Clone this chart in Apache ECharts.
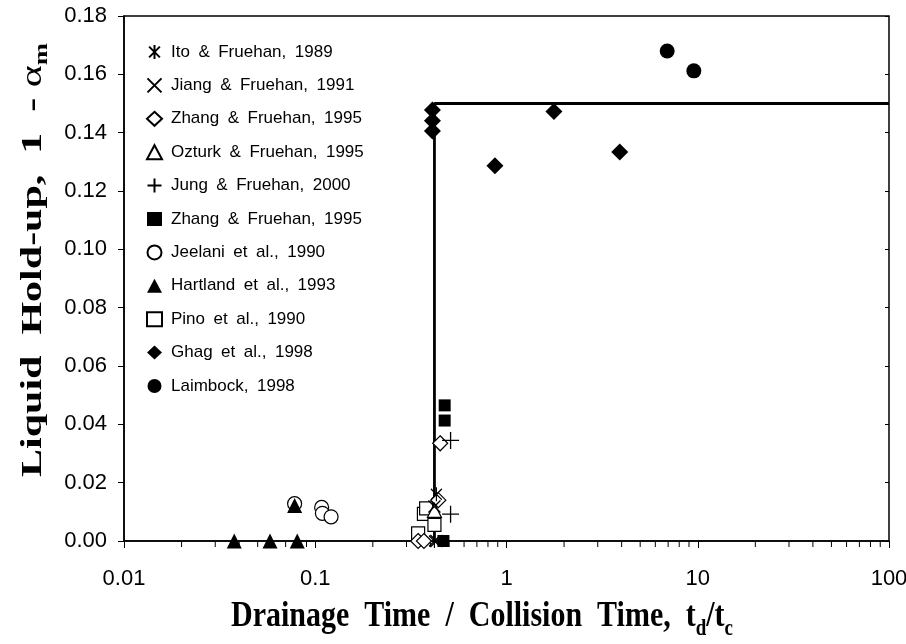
<!DOCTYPE html>
<html>
<head>
<meta charset="utf-8">
<script src="https://cdn.jsdelivr.net/npm/echarts@6/dist/echarts.min.js"></script>
<style>
  html, body { margin: 0; padding: 0; background: #fff; }
  #chart { width: 906px; height: 644px; }
</style>
</head>
<body>
<div id="chart"></div>
<script>
// ---- data: [drainage time / collision time, liquid hold-up] ----
const itoFruehan1989     = [[0.43, 0.016], [0.42, 0.0]];
const jiangFruehan1991   = [[0.42, 0.0118], [0.43, 0.0]];
const zhangFruehanOpen   = [[0.45, 0.0335], [0.44, 0.014], [0.345, 0.0], [0.37, 0.0]];
const ozturkFruehan1995  = [[0.42, 0.0105]];
const jungFruehan2000    = [[0.51, 0.0345], [0.51, 0.0092]];
const zhangFruehanFilled = [[0.475, 0.0465], [0.475, 0.0413], [0.468, 0.0]];
const jeelani1990        = [[0.078, 0.0128], [0.108, 0.0115], [0.109, 0.0095], [0.121, 0.0083]];
const hartland1993       = [[0.0377, 0.0], [0.058, 0.0], [0.0805, 0.0], [0.078, 0.0122]];
const pino1990           = [[0.37, 0.0093], [0.38, 0.0112], [0.42, 0.0055], [0.345, 0.0026]];
const ghag1998           = [[0.41, 0.1478], [0.41, 0.1441], [0.41, 0.1406], [0.87, 0.1287], [1.77, 0.1473], [3.91, 0.1334]];
const laimbock1998       = [[6.92, 0.168], [9.54, 0.1612]];

// transition boundary
const boundaryX = [0.42, 0.42, 100];
const boundaryY = [0.0, 0.15, 0.15];

// axes
const xTickLabels = ['0.01', '0.1', '1', '10', '100'];
const yTickLabels = ['0.00', '0.02', '0.04', '0.06', '0.08', '0.10', '0.12', '0.14', '0.16', '0.18'];
const xMinorMultipliers = [2, 3, 4, 5, 6, 7, 8, 9];
const xDecades = [0.01, 0.1, 1, 10];

// en spaces keep the wide word gaps of the figure's typesetting
const SP = '\u2002';
const legendNames = [
  'Ito' + SP + '&' + SP + 'Fruehan,' + SP + '1989',
  'Jiang' + SP + '&' + SP + 'Fruehan,' + SP + '1991',
  'Zhang' + SP + '&' + SP + 'Fruehan,' + SP + '1995',
  'Ozturk' + SP + '&' + SP + 'Fruehan,' + SP + '1995',
  'Jung' + SP + '&' + SP + 'Fruehan,' + SP + '2000',
  'Zhang' + SP + '&' + SP + 'Fruehan,' + SP + '1995 ',
  'Jeelani' + SP + 'et' + SP + 'al.,' + SP + '1990',
  'Hartland' + SP + 'et' + SP + 'al.,' + SP + '1993',
  'Pino' + SP + 'et' + SP + 'al.,' + SP + '1990',
  'Ghag' + SP + 'et' + SP + 'al.,' + SP + '1998',
  'Laimbock,' + SP + '1998'
];
const xTitle = 'Drainage' + SP + 'Time' + SP + '/' + SP + 'Collision' + SP + 'Time,' + SP + 't{sub|d}/t{sub|c}';
const yTitle = 'Liquid' + SP + 'Hold-up,' + SP + '1' + SP + '- {alpha|α}{sub|m}';

const ASTERISK = 'path://M-1,-1L1,1M-1,1L1,-1M0,-1.3L0,1.3';
const CROSS = 'path://M-1,-1L1,1M-1,1L1,-1';
const PLUS = 'path://M-1,0L1,0M0,-1L0,1';

const openStyle = { color: '#fff', borderColor: '#000', borderWidth: 1.2, opacity: 1 };
const strokeStyle = { color: 'none', borderColor: '#000', borderWidth: 1.3, opacity: 1 };
const filledStyle = { color: '#000', borderColor: '#000', borderWidth: 0, opacity: 1 };

function scatter(name, data, symbol, size, style) {
  return {
    name: name,
    type: 'scatter',
    data: data,
    symbol: symbol,
    symbolSize: size,
    itemStyle: style,
    emphasis: { disabled: true },
    z: 3
  };
}

const minorTicks = [];
xDecades.forEach(function (d) {
  xMinorMultipliers.forEach(function (m) { minorTicks.push([d * m, 0]); });
});

const chart = echarts.init(document.getElementById('chart'), null, { renderer: 'canvas' });

const sharedX = { type: 'log', logBase: 10, min: 0.01, max: 100, gridIndex: 0 };
const sharedY = { type: 'value', min: 0, max: 0.18, interval: 0.02, gridIndex: 0 };
const subRich = { fontSize: 19, fontWeight: 'bold', fontFamily: 'Liberation Serif', lineHeight: 19, verticalAlign: 'bottom' };

chart.setOption({
  animation: false,
  backgroundColor: '#fff',
  grid: {
    left: 124, right: 17, top: 16, bottom: 103,
    outerBoundsMode: 'none',
    containLabel: false,
    show: true, borderColor: '#000', borderWidth: 1.5, backgroundColor: 'transparent'
  },
  xAxis: [
    Object.assign({}, sharedX, {
      axisLine: { show: true, lineStyle: { color: '#000', width: 1.5 } },
      axisTick: { show: true, inside: false, length: 7, lineStyle: { color: '#000', width: 1 } },
      axisLabel: {
        color: '#000', fontFamily: 'Liberation Sans', fontSize: 22, margin: 27,
        formatter: function (v) {
          const k = Math.round(Math.log10(v)) + 2;
          return xTickLabels[k] !== undefined ? xTickLabels[k] : '';
        }
      },
      splitLine: { show: false }
    }),
    Object.assign({}, sharedX, {
      axisLine: { show: false },
      axisTick: { show: true, inside: true, length: 7, lineStyle: { color: '#000', width: 1 } },
      axisLabel: { show: false },
      splitLine: { show: false }
    })
  ],
  yAxis: [
    Object.assign({}, sharedY, {
      axisLine: { show: true, lineStyle: { color: '#000', width: 1.5 } },
      axisTick: { show: true, inside: false, length: 6, lineStyle: { color: '#000', width: 1 } },
      axisLabel: {
        color: '#000', fontFamily: 'Liberation Sans', fontSize: 22, margin: 17,
        formatter: function (v) {
          const k = Math.round(v / 0.02);
          return yTickLabels[k] !== undefined ? yTickLabels[k] : '';
        }
      },
      splitLine: { show: false }
    }),
    Object.assign({}, sharedY, {
      axisLine: { show: false },
      axisTick: { show: true, inside: true, length: 4, lineStyle: { color: '#000', width: 1 } },
      axisLabel: { show: false },
      splitLine: { show: false }
    })
  ],
  legend: {
    orient: 'vertical',
    left: 140, top: 37,
    itemWidth: 15, itemHeight: 14, itemGap: 13.4,
    selectedMode: false,
    data: legendNames,
    textStyle: { color: '#000', fontFamily: 'Liberation Sans', fontSize: 17, lineHeight: 20, padding: [0, 0, 0, 4] }
  },
  graphic: [
    {
      type: 'text',
      x: 482, y: 617,
      scaleY: 1.22,
      style: {
        text: xTitle,
        fill: '#000',
        font: 'bold 30px "Liberation Serif"',
        align: 'center', verticalAlign: 'middle',
        lineHeight: 38,
        rich: { sub: subRich }
      }
    },
    {
      type: 'text',
      x: 33, y: 260,
      rotation: Math.PI / 2,
      scaleX: 1.4,
      style: {
        text: yTitle,
        fill: '#000',
        font: 'bold 30px "Liberation Serif"',
        align: 'center', verticalAlign: 'middle',
        lineHeight: 38,
        rich: {
          sub: subRich,
          alpha: { fontSize: 30, fontWeight: 'normal', fontFamily: 'Liberation Serif', lineHeight: 38 }
        }
      }
    }
  ],
  series: [
    {
      name: 'minor ticks',
      type: 'custom',
      data: minorTicks,
      clip: false,
      silent: true,
      z: 1,
      renderItem: function (params, api) {
        const p = api.coord([api.value(0), 0]);
        return {
          type: 'line',
          shape: { x1: p[0], y1: p[1], x2: p[0], y2: p[1] + 6 },
          style: { stroke: '#000', lineWidth: 1 }
        };
      }
    },
    {
      name: 'boundary',
      type: 'line',
      data: boundaryX.map(function (x, i) { return [x, boundaryY[i]]; }),
      symbol: 'none',
      lineStyle: { color: '#000', width: 2.8 },
      silent: true,
      z: 2
    },
    scatter(legendNames[8], pino1990, 'rect', 13, openStyle),
    scatter(legendNames[2], zhangFruehanOpen, 'diamond', 15, openStyle),
    scatter(legendNames[3], ozturkFruehan1995, 'triangle', 14, openStyle),
    scatter(legendNames[6], jeelani1990, 'circle', 14, openStyle),
    scatter(legendNames[7], hartland1993, 'triangle', 15, filledStyle),
    scatter(legendNames[5], zhangFruehanFilled, 'rect', 12, filledStyle),
    scatter(legendNames[0], itoFruehan1989, ASTERISK, [11, 14], strokeStyle),
    scatter(legendNames[1], jiangFruehan1991, CROSS, 12, strokeStyle),
    scatter(legendNames[4], jungFruehan2000, PLUS, 17, strokeStyle),
    scatter(legendNames[9], ghag1998, 'diamond', 17, filledStyle),
    scatter(legendNames[10], laimbock1998, 'circle', 15, filledStyle)
  ]
});
</script>
</body>
</html>
